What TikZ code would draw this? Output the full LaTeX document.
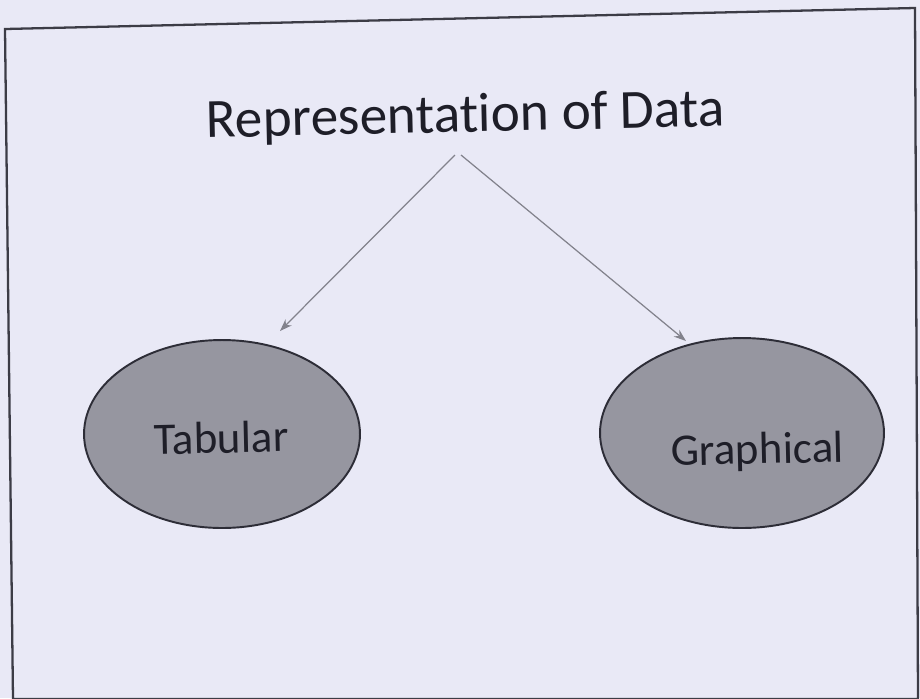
\documentclass[tikz,border=0pt]{standalone}
\usepackage{fontspec}
\setmainfont{Carlito}[Ligatures=NoCommon]
\usetikzlibrary{shapes.geometric,arrows.meta}
\definecolor{paper}{RGB}{233,233,246}
\definecolor{framec}{RGB}{60,60,70}
\definecolor{ovalfill}{RGB}{150,150,160}
\definecolor{ovaledge}{RGB}{45,45,55}
\definecolor{arrowc}{RGB}{130,130,140}
\definecolor{txt}{RGB}{30,30,40}
\tikzset{
  oval/.style={ellipse, draw=ovaledge, line width=1.1pt, fill=ovalfill, inner sep=0pt},
  lbl/.style={text=txt, inner sep=0pt, anchor=base, rotate=1.3},
  conn/.style={draw=arrowc, line width=0.7pt, -{Stealth[length=7pt,width=5pt]}},
}
\begin{document}
\begin{tikzpicture}[x=0.02cm,y=-0.02cm]
\fill[paper] (0,0) rectangle (920,698);
\useasboundingbox (0,0) rectangle (920,698);
\draw[framec, line width=1.3pt] (5,29) -- (915,8) -- (918,699) -- (13,699) -- cycle;
\node[lbl, font=\fontsize{31.5}{36}\selectfont] (title) at (466,132) {Representation of Data};
\node[oval, minimum width=5.52cm, minimum height=3.76cm] (tab) at (222,434) {};
\node[oval, minimum width=5.68cm, minimum height=3.8cm] (gra) at (742,433) {};
\node[lbl, font=\fontsize{25.6}{30}\selectfont] (tabt) at (221.5,453) {Tabular};
\node[lbl, font=\fontsize{25.6}{30}\selectfont] (grat) at (757.5,464) {Graphical};
\coordinate (s1) at (455,155);
\coordinate (e1) at (280,331);
\coordinate (s2) at (461,155);
\coordinate (e2) at (686,341);
\draw[conn] (s1) -- (e1);
\draw[conn] (s2) -- (e2);
\end{tikzpicture}
\end{document}
